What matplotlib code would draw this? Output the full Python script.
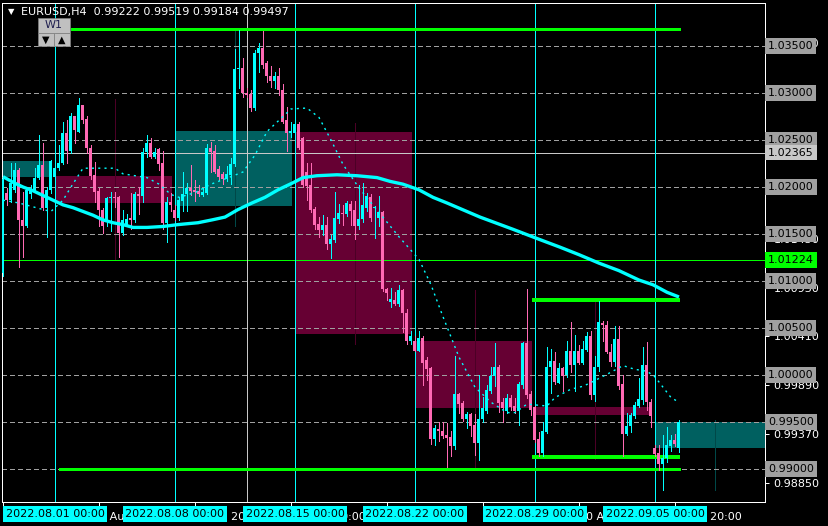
import matplotlib
matplotlib.use("Agg")
import matplotlib.pyplot as plt
import matplotlib.transforms as mtransforms
from matplotlib.patches import Rectangle

W, H = 829, 526

# EURUSD H4 candles, bar 0 = 2022.07.27 20:00 (30 bars per week)
opens = [1.0109, 1.0194, 1.0186, 1.0197, 1.0218, 1.0165, 1.0158, 1.0193, 1.0197, 1.0210,
         1.0223, 1.0178, 1.0197, 1.0211, 1.0220, 1.0226, 1.0257, 1.0238, 1.0275, 1.0259,
         1.0287, 1.0272, 1.0242, 1.0213, 1.0196, 1.0176, 1.0163, 1.0188, 1.0189, 1.0189,
         1.0151, 1.0161, 1.0167, 1.0165, 1.0193, 1.0190, 1.0237, 1.0247, 1.0232, 1.0240,
         1.0225, 1.0162, 1.0184, 1.0175, 1.0167, 1.0185, 1.0193, 1.0199, 1.0197, 1.0196,
         1.0192, 1.0194, 1.0241, 1.0238, 1.0219, 1.0214, 1.0208, 1.0213, 1.0224, 1.0326,
         1.0327, 1.0300, 1.0299, 1.0284, 1.0343, 1.0348, 1.0332, 1.0318, 1.0313, 1.0318,
         1.0303, 1.0271, 1.0257, 1.0257, 1.0267, 1.0252, 1.0216, 1.0202, 1.0177, 1.0161,
         1.0154, 1.0160, 1.0139, 1.0144, 1.0166, 1.0172, 1.0171, 1.0182, 1.0175, 1.0159,
         1.0166, 1.0178, 1.0189, 1.0178, 1.0167, 1.0173, 1.0092, 1.0078, 1.0080, 1.0076,
         1.0090, 1.0066, 1.0036, 1.0036, 1.0026, 1.0039, 1.0016, 1.0007, 0.9932, 0.9943,
         0.9940, 0.9936, 0.9934, 0.9924, 0.9980, 0.9970, 0.9953, 0.9958, 0.9947, 0.9928,
         0.9953, 0.9962, 0.9983, 0.9999, 1.0008, 0.9971, 0.9962, 0.9976, 0.9967, 0.9962,
         0.9989, 1.0034, 0.9980, 0.9966, 0.9932, 0.9917, 0.9939, 1.0008, 1.0015, 0.9992,
         1.0007, 1.0000, 1.0026, 1.0011, 1.0025, 1.0013, 1.0027, 1.0041, 0.9979, 1.0009,
         1.0055, 1.0053, 1.0024, 1.0014, 1.0038, 0.9990, 0.9937, 0.9946, 0.9956, 0.9967,
         0.9973, 1.0011, 0.9971, 0.9922, 0.9917, 0.9905, 0.9912, 0.9924, 0.9931, 0.99222]
highs = [1.0210, 1.0199, 1.0225, 1.0226, 1.0220, 1.0195, 1.0200, 1.0202, 1.0220, 1.0255,
         1.0247, 1.0200, 1.0229, 1.0224, 1.0245, 1.0269, 1.0271, 1.0279, 1.0276, 1.0295,
         1.0287, 1.0275, 1.0245, 1.0227, 1.0199, 1.0178, 1.0189, 1.0195, 1.0195, 1.0190,
         1.0176, 1.0171, 1.0194, 1.0195, 1.0200, 1.0242, 1.0255, 1.0252, 1.0242, 1.0241,
         1.0238, 1.0189, 1.0194, 1.0181, 1.0189, 1.0216, 1.0204, 1.0223, 1.0207, 1.0202,
         1.0199, 1.0246, 1.0248, 1.0245, 1.0222, 1.0216, 1.0222, 1.0231, 1.0347, 1.0367,
         1.0337, 1.0305, 1.0303, 1.0346, 1.0353, 1.0366, 1.0334, 1.0329, 1.0322, 1.0327,
         1.0310, 1.0285, 1.0269, 1.0269, 1.0269, 1.0253, 1.0225, 1.0226, 1.0179, 1.0168,
         1.0170, 1.0168, 1.0149, 1.0195, 1.0182, 1.0181, 1.0185, 1.0185, 1.0185, 1.0202,
         1.0204, 1.0194, 1.0193, 1.0180, 1.0190, 1.0174, 1.0093, 1.0093, 1.0088, 1.0096,
         1.0091, 1.0070, 1.0047, 1.0041, 1.0047, 1.0041, 1.0019, 1.0009, 0.9947, 0.9950,
         0.9950, 0.9949, 0.9940, 1.0020, 0.9981, 0.9972, 0.9961, 0.9960, 0.9958, 1.0000,
         0.9977, 0.9989, 1.0009, 1.0034, 1.0011, 0.9976, 0.9980, 0.9979, 0.9976, 0.9993,
         1.0035, 1.0091, 0.9983, 0.9967, 0.9939, 0.9950, 1.0030, 1.0028, 1.0024, 1.0013,
         1.0009, 1.0036, 1.0056, 1.0043, 1.0032, 1.0036, 1.0046, 1.0047, 1.0020, 1.0079,
         1.0057, 1.0057, 1.0033, 1.0052, 1.0052, 1.0000, 0.9960, 0.9960, 0.9971, 0.9997,
         1.0030, 1.0035, 0.9974, 0.9926, 0.9926, 0.9936, 0.9945, 0.9936, 0.9937, 0.99519]
lows = [1.0105, 1.0181, 1.0184, 1.0195, 1.0115, 1.0126, 1.0157, 1.0188, 1.0195, 1.0208,
        1.0176, 1.0147, 1.0194, 1.0210, 1.0218, 1.0224, 1.0226, 1.0236, 1.0247, 1.0258,
        1.0268, 1.0236, 1.0208, 1.0184, 1.0158, 1.0151, 1.0158, 1.0153, 1.0179, 1.0125,
        1.0149, 1.0158, 1.0155, 1.0163, 1.0171, 1.0184, 1.0232, 1.0231, 1.0231, 1.0218,
        1.0155, 1.0142, 1.0174, 1.0165, 1.0165, 1.0174, 1.0174, 1.0191, 1.0185, 1.0190,
        1.0190, 1.0193, 1.0216, 1.0215, 1.0207, 1.0203, 1.0206, 1.0203, 1.0222, 1.0305,
        1.0296, 1.0296, 1.0281, 1.0282, 1.0322, 1.0327, 1.0312, 1.0306, 1.0305, 1.0298,
        1.0268, 1.0238, 1.0253, 1.0254, 1.0240, 1.0200, 1.0186, 1.0173, 1.0155, 1.0147,
        1.0149, 1.0134, 1.0124, 1.0142, 1.0162, 1.0160, 1.0169, 1.0160, 1.0145, 1.0155,
        1.0163, 1.0174, 1.0164, 1.0146, 1.0158, 1.0089, 1.0080, 1.0072, 1.0074, 1.0073,
        1.0046, 1.0033, 1.0033, 1.0025, 1.0025, 0.9989, 0.9995, 0.9927, 0.9926, 0.9930,
        0.9933, 0.9902, 0.9914, 0.9921, 0.9960, 0.9951, 0.9944, 0.9935, 0.9915, 0.9910,
        0.9950, 0.9960, 0.9981, 0.9988, 0.9961, 0.9950, 0.9960, 0.9963, 0.9960, 0.9947,
        0.9986, 0.9976, 0.9957, 0.9929, 0.9914, 0.9914, 0.9938, 0.9981, 0.9990, 0.9991,
        0.9983, 0.9998, 1.0003, 0.9983, 1.0012, 1.0012, 1.0026, 0.9974, 0.9972, 1.0004,
        1.0036, 1.0023, 1.0010, 1.0010, 0.9985, 0.9914, 0.9936, 0.9939, 0.9954, 0.9966,
        0.9969, 0.9963, 0.9945, 0.9914, 0.9899, 0.9878, 0.9907, 0.9919, 0.9924, 0.99184]
closes = [1.0208, 1.0186, 1.0204, 1.0218, 1.0165, 1.0158, 1.0197, 1.0197, 1.0210, 1.0223,
          1.0178, 1.0197, 1.0228, 1.0220, 1.0226, 1.0257, 1.0238, 1.0276, 1.0261, 1.0287,
          1.0271, 1.0242, 1.0212, 1.0195, 1.0176, 1.0158, 1.0188, 1.0189, 1.0188, 1.0151,
          1.0165, 1.0166, 1.0165, 1.0193, 1.0190, 1.0237, 1.0247, 1.0232, 1.0237, 1.0224,
          1.0162, 1.0184, 1.0181, 1.0167, 1.0186, 1.0193, 1.0199, 1.0196, 1.0195, 1.0193,
          1.0195, 1.0241, 1.0237, 1.0216, 1.0211, 1.0208, 1.0214, 1.0224, 1.0326, 1.0327,
          1.0300, 1.0298, 1.0284, 1.0343, 1.0348, 1.0330, 1.0318, 1.0313, 1.0318, 1.0303,
          1.0269, 1.0257, 1.0260, 1.0267, 1.0242, 1.0202, 1.0201, 1.0176, 1.0160, 1.0154,
          1.0160, 1.0139, 1.0145, 1.0167, 1.0172, 1.0171, 1.0183, 1.0174, 1.0159, 1.0166,
          1.0181, 1.0190, 1.0167, 1.0179, 1.0173, 1.0091, 1.0087, 1.0081, 1.0076, 1.0090,
          1.0066, 1.0036, 1.0042, 1.0026, 1.0039, 1.0013, 1.0006, 0.9932, 0.9944, 0.9940,
          0.9935, 0.9933, 0.9924, 0.9980, 0.9969, 0.9953, 0.9958, 0.9946, 0.9928, 0.9953,
          0.9965, 0.9984, 0.9999, 1.0008, 0.9970, 0.9965, 0.9975, 0.9966, 0.9962, 0.9990,
          1.0034, 0.9979, 0.9963, 0.9931, 0.9917, 0.9940, 1.0009, 1.0015, 0.9993, 1.0007,
          0.9999, 1.0026, 1.0011, 1.0025, 1.0013, 1.0028, 1.0041, 0.9979, 1.0009, 1.0056,
          1.0053, 1.0024, 1.0014, 1.0038, 0.9988, 0.9937, 0.9946, 0.9957, 0.9968, 0.9974,
          1.0011, 0.9971, 0.9956, 0.9916, 0.9905, 0.9912, 0.9925, 0.9931, 0.9927, 0.99497]

# W1 overlay candles (start bar of each week)
week_start = [-17, 13, 43, 73, 103, 133, 163]
week_open = [1.0211, 1.0212, 1.0180, 1.0258, 1.0036, 0.9966, 0.99222]
week_high = [1.0254, 1.0294, 1.0368, 1.0268, 1.0090, 1.0079, 0.9952]
week_low = [1.0096, 1.0123, 1.0159, 1.0033, 0.9900, 0.9911, 0.9878]
week_close = [1.0228, 1.0183, 1.0260, 1.0044, 0.9965, 0.9957, 0.99497]

# moving averages (bar, value)
ma_slow_bar = [0, 2.5, 5, 7.5, 10, 12.5, 15, 17.5, 20, 22.5, 25, 27.5, 30, 32.5, 36, 40,
               43.75, 48.75, 52.25, 55.5, 58.75, 62.25, 65.5, 68.75, 72.25, 75, 78.5, 83.5,
               88.5, 93.5, 96.75, 100, 104, 107.5, 111, 119.25, 127.5, 134.25, 139.25, 144,
               149, 154, 159, 162.5, 166, 169]
ma_slow = [1.0211, 1.0205, 1.0200, 1.0196, 1.0191, 1.0186, 1.0181, 1.0178, 1.0174, 1.0170,
           1.0165, 1.0162, 1.0160, 1.0157, 1.0157, 1.0158, 1.0160, 1.0162, 1.0165, 1.0168,
           1.0176, 1.0183, 1.0189, 1.0197, 1.0204, 1.0210, 1.0212, 1.0213, 1.0212, 1.0210,
           1.0206, 1.0203, 1.0197, 1.0189, 1.0183, 1.0168, 1.0155, 1.0144, 1.0136, 1.0128,
           1.0119, 1.0111, 1.0101, 1.0096, 1.0088, 1.0083]
ma_fast_bar = [0, 4, 10, 12, 15, 17, 20, 24, 28, 30, 36, 39, 42, 44, 48, 52, 57, 60, 63,
               66, 69, 72, 76, 79, 82, 85, 89, 94, 99, 104, 107, 110, 114, 118, 122, 126,
               128, 131, 136, 138, 142, 145, 147, 152, 155, 158, 161, 163, 165, 167, 169]
ma_fast = [1.0186, 1.0183, 1.0176, 1.0174, 1.0186, 1.0200, 1.0220, 1.0220, 1.0220, 1.0214,
           1.0210, 1.0203, 1.0192, 1.0189, 1.0194, 1.0203, 1.0211, 1.0216, 1.0234, 1.0259,
           1.0271, 1.0283, 1.0284, 1.0274, 1.0250, 1.0224, 1.0199, 1.0173, 1.0147, 1.0123,
           1.0096, 1.0062, 1.0019, 0.9987, 0.9971, 0.9960, 0.9960, 0.9969, 0.9967, 0.9976,
           0.9985, 0.9988, 0.9992, 1.0003, 1.0010, 1.0006, 1.0004, 0.9998, 0.9987, 0.9976,
           0.9971]

# chart objects
level_lines = [1.035, 1.030, 1.025, 1.020, 1.015, 1.010, 1.005, 1.000, 0.995, 0.990]
gray_hline = 1.02365
green_hline = 1.01224
gray_vline_bar = 61
green_segments = [(17, 169.3, 1.0368), (14, 169.3, 0.9900),
                  (132.2, 169.3, 1.0080), (132.2, 169.3, 0.99127)]
week_line_labels = ["2022.08.01 00:00", "2022.08.08 00:00", "2022.08.15 00:00",
                    "2022.08.22 00:00", "2022.08.29 00:00", "2022.09.05 00:00"]
price_ticks = [0.98850, 0.99370, 0.99890, 1.00410, 1.00930, 1.01450,
               1.01970, 1.02490, 1.03010, 1.03530]
# labels fully covered by the line labels are left empty
price_tick_labels = ["0.98850", "0.99370", "0.99890", "1.00410", "1.00930", "1.01450",
                     "", "", "", "1.03530"]
time_tick_bars = [0, 24, 48, 72, 96, 120, 144, 168]
time_tick_labels = ["", "2 Aug 20:00", "8 Aug 20:00", "12 Aug 20:00",
                    "", "", "30 Aug 20:00", "5 Sep 20:00"]
header_vals = ["0.99222", "0.99519", "0.99184", "0.99497"]

CYAN = "#00FFFF"
PINK = "#FF69B4"
TEAL = "#006060"
WINE = "#660033"
LIME = "#00FF00"
PX = 0.72  # one pixel in points

plt.rcParams["font.family"] = ["DejaVu Sans"]
fig = plt.figure(figsize=(W / 100, H / 100), dpi=100, facecolor="black")
ax = fig.add_axes([2 / W, 1 - 502 / H, 763 / W, 499 / H], facecolor="black")
ax.set_xlim(-0.25, 190.5)
ax.set_ylim(1.035 - 456 / 9400, 1.035 + 43 / 9400)

for s in ax.spines.values():
    s.set_color("white")
    s.set_linewidth(PX)

# weekly boxes + wicks
for ws, o, hi, lo, c in zip(week_start, week_open, week_high, week_low, week_close):
    col = TEAL if c >= o else WINE
    wick = "#004848" if c >= o else "#4C0026"
    ax.add_patch(Rectangle((ws, min(o, c)), 29.3, abs(c - o), color=col, lw=0, zorder=1))
    ax.vlines(ws + 15, lo, hi, colors=wick, lw=PX, zorder=1.5, antialiased=False)

# level lines
for lv in level_lines:
    ax.axhline(lv, color="#A0A0A0", lw=PX, ls=(0, (5, 3.5)), zorder=2, antialiased=False)
ax.axhline(gray_hline, color="#C8C8C8", lw=PX, zorder=2, antialiased=False)
ax.axhline(green_hline, color=LIME, lw=PX, zorder=2, antialiased=False)
ax.axvline(gray_vline_bar, color="#C8C8C8", lw=PX, zorder=2, antialiased=False)
for ws in week_start[1:]:
    ax.axvline(ws, color=CYAN, lw=PX, zorder=2, antialiased=False)
for i, (x0, x1, p) in enumerate(green_segments):
    ax.plot([x0, x1], [p, p], color=LIME, lw=2.0 if i < 2 else 1.5, zorder=3,
            solid_capstyle="butt", antialiased=False)

# candles
xs = list(range(len(opens)))
cols = [CYAN if c >= o else PINK for o, c in zip(opens, closes)]
ax.vlines(xs, lows, highs, colors=cols, lw=PX, zorder=4, antialiased=False)
bottoms = [min(o, c) for o, c in zip(opens, closes)]
heights = [max(abs(c - o), 0.0001) for o, c in zip(opens, closes)]
ax.bar(xs, heights, bottom=bottoms, width=0.75, color=cols, lw=0, zorder=5,
       antialiased=False)

# moving averages
ax.plot(ma_slow_bar, ma_slow, color=CYAN, lw=2.4, zorder=6, solid_capstyle="butt")
ax.plot(ma_fast_bar, ma_fast, color=CYAN, lw=1.0, ls=(0, (1.5, 3)), zorder=6)

# price scale
ax.yaxis.tick_right()
ax.set_yticks(price_ticks)
ax.set_yticklabels(price_tick_labels)
ax.tick_params(axis="y", colors="white", labelsize=8, length=3, width=PX, pad=3)
ax.set_xticks(time_tick_bars)
ax.set_xticklabels(time_tick_labels)
ax.tick_params(axis="x", colors="white", labelsize=8, length=3, width=PX, pad=4)
for lab in ax.get_xticklabels():
    lab.set_horizontalalignment("left")

rtrans = mtransforms.blended_transform_factory(fig.transFigure, ax.transData)
for lv in level_lines:
    ax.text(768 / W, lv, f"{lv:.5f}", transform=rtrans, fontsize=8, color="black",
            va="center", ha="left", zorder=10, clip_on=False,
            bbox=dict(boxstyle="square,pad=0.25", fc="#A0A0A0", ec="none"))
ax.text(768 / W, gray_hline, f"{gray_hline:.5f}", transform=rtrans, fontsize=8,
        color="black", va="center", ha="left", zorder=10, clip_on=False,
        bbox=dict(boxstyle="square,pad=0.25", fc="#C8C8C8", ec="none"))
ax.text(768 / W, green_hline, f"{green_hline:.5f}", transform=rtrans, fontsize=8,
        color="black", va="center", ha="left", zorder=10, clip_on=False,
        bbox=dict(boxstyle="square,pad=0.25", fc=LIME, ec="none"))

btrans = mtransforms.blended_transform_factory(ax.transData, fig.transFigure)
for ws, lab in zip(week_start[1:], week_line_labels):
    ax.text(ws, 1 - 514 / H, lab, transform=btrans, fontsize=8, color="black",
            va="center", ha="center", zorder=10, clip_on=False,
            bbox=dict(boxstyle="square,pad=0.25", fc=CYAN, ec="none"))

# header and W1 buttons
fig.text(8 / W, 1 - 12 / H, "\u25bc", color="white", fontsize=6, va="center")
fig.text(21 / W, 1 - 12 / H, "EURUSD,H4  " + " ".join(header_vals), color="white",
         fontsize=8, va="center")
fig.patches.append(Rectangle((38 / W, 1 - 33 / H), 32 / W, 15 / H, transform=fig.transFigure,
                             fc="#C0C0C0", ec="#808080", lw=0.5, zorder=20))
fig.patches.append(Rectangle((38 / W, 1 - 46 / H), 16 / W, 13 / H, transform=fig.transFigure,
                             fc="#C0C0C0", ec="#808080", lw=0.5, zorder=20))
fig.patches.append(Rectangle((54 / W, 1 - 46 / H), 16 / W, 13 / H, transform=fig.transFigure,
                             fc="#C0C0C0", ec="#808080", lw=0.5, zorder=20))
fig.text(54 / W, 1 - 25.5 / H, "W1", color="#202050", fontsize=8, va="center", ha="center",
         zorder=21)
fig.text(46 / W, 1 - 39.5 / H, "\u25bc", color="black", fontsize=7, va="center",
         ha="center", zorder=21)
fig.text(62 / W, 1 - 39.5 / H, "\u25b2", color="black", fontsize=7, va="center",
         ha="center", zorder=21)

fig.savefig("out.png", dpi=100, facecolor="black")
